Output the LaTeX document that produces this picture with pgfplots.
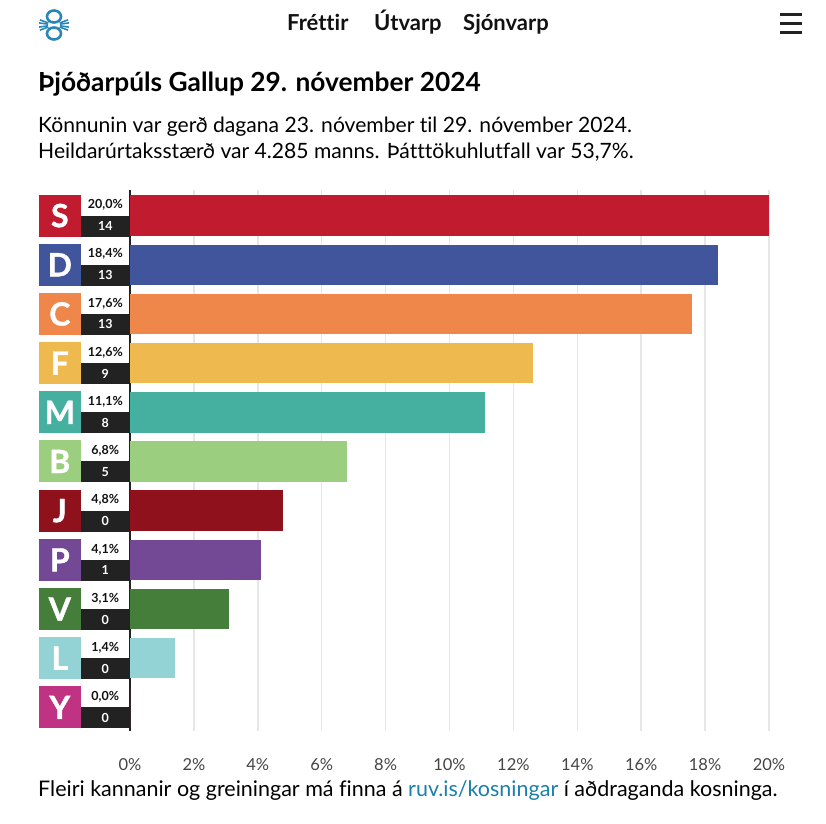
\documentclass[border=0pt]{standalone}
\usepackage{pgfplots}
\pgfplotsset{compat=1.18}
\usepackage{fontspec}
\setmainfont{Lato}[Ligatures=NoCommon]
\newfontfamily\heavyfont{Lato}[Ligatures=NoCommon, BoldFeatures={FakeBold=1.2}]
\definecolor{cS}{HTML}{C11B2F}
\definecolor{cD}{HTML}{40559C}
\definecolor{cC}{HTML}{EF874A}
\definecolor{cF}{HTML}{EEB94F}
\definecolor{cM}{HTML}{46B0A0}
\definecolor{cB}{HTML}{9CCE7F}
\definecolor{cJ}{HTML}{8F111C}
\definecolor{cP}{HTML}{734995}
\definecolor{cV}{HTML}{457E3B}
\definecolor{cL}{HTML}{93D3D5}
\definecolor{cY}{HTML}{C03282}
\definecolor{boxblack}{HTML}{222222}
\definecolor{txt}{HTML}{111111}
\definecolor{ticktxt}{HTML}{444444}
\definecolor{gridc}{HTML}{E6E6E6}
\definecolor{link}{HTML}{1A7FAA}
\definecolor{logo}{HTML}{2A86B8}
\newcommand{\plab}[4]{%
  \begingroup\setlength{\fboxsep}{0pt}%
  \colorbox{#1}{\parbox[c][42pt][c]{42pt}{\centering\color{white}\heavyfont\fontsize{32}{32}\selectfont\bfseries #2}}%
  \parbox[c]{49pt}{\offinterlineskip
    \colorbox{white}{\parbox[c][21pt][c]{49pt}{\centering\fontsize{12.5}{12.5}\selectfont\bfseries\color{txt}#3}}\par
    \colorbox{boxblack}{\parbox[c][21pt][c]{49pt}{\centering\fontsize{12.5}{12.5}\selectfont\bfseries\color{white}#4}}}%
  \endgroup}
\begin{document}
\begin{tikzpicture}
\begin{axis}[
  at={(0,0)}, anchor=south west,
  scale only axis, width=639pt, height=541pt,
  xmin=0, xmax=20, ymin=-0.48, ymax=10.52,
  xbar, bar width=40.5pt, bar shift=0pt,
  axis line style={draw=none},
  major tick length=0pt,
  xtick={0,2,...,20},
  xticklabels={0\%,2\%,4\%,6\%,8\%,10\%,12\%,14\%,16\%,18\%,20\%},
  xticklabel style={anchor=base, yshift=-39pt, font=\fontsize{16.5}{16.5}\selectfont, text=ticktxt},
  xmajorgrids, grid style={gridc, line width=1.5pt},
  extra x ticks={0}, extra x tick labels={},
  extra x tick style={grid style={boxblack, line width=1.5pt}},
  ytick={0,...,10},
  yticklabels={
    {\plab{cY}{Y}{0,0\%}{0}},
    {\plab{cL}{L}{1,4\%}{0}},
    {\plab{cV}{V}{3,1\%}{0}},
    {\plab{cP}{P}{4,1\%}{1}},
    {\plab{cJ}{J}{4,8\%}{0}},
    {\plab{cB}{B}{6,8\%}{5}},
    {\plab{cM}{M}{11,1\%}{8}},
    {\plab{cF}{F}{12,6\%}{9}},
    {\plab{cC}{C}{17,6\%}{13}},
    {\plab{cD}{D}{18,4\%}{13}},
    {\plab{cS}{S}{20,0\%}{14}}},
  yticklabel style={anchor=east, inner sep=0pt, xshift=0pt},
  clip=false,
]
\addplot[draw=none, fill=cS] coordinates {(20.0,10)};
\addplot[draw=none, fill=cD] coordinates {(18.4,9)};
\addplot[draw=none, fill=cC] coordinates {(17.6,8)};
\addplot[draw=none, fill=cF] coordinates {(12.6,7)};
\addplot[draw=none, fill=cM] coordinates {(11.1,6)};
\addplot[draw=none, fill=cB] coordinates {(6.8,5)};
\addplot[draw=none, fill=cJ] coordinates {(4.8,4)};
\addplot[draw=none, fill=cP] coordinates {(4.1,3)};
\addplot[draw=none, fill=cV] coordinates {(3.1,2)};
\addplot[draw=none, fill=cL] coordinates {(1.4,1)};
\addplot[draw=none, fill=cY] coordinates {(0.0,0)};
\end{axis}
% bounding box: image pixel (px,py) -> (px-130, 731-py)
\path[use as bounding box] (-130pt,-92pt) rectangle (696pt,731pt);
% header
\node[anchor=base west, inner sep=0pt, font=\fontsize{22}{22}\selectfont\bfseries, text=txt] at (157pt,700pt) {Fréttir};
\node[anchor=base west, inner sep=0pt, font=\fontsize{22}{22}\selectfont\bfseries, text=txt] at (244pt,700pt) {Útvarp};
\node[anchor=base west, inner sep=0pt, font=\fontsize{22}{22}\selectfont\bfseries, text=txt] at (333pt,700pt) {Sjónvarp};
\foreach \yy in {716,707,698} \draw[line width=3pt, boxblack] (650pt,\yy pt) -- (672pt,\yy pt);
% logo
\begin{scope}[logo, line width=2.6pt]
  \draw (-76pt,714.5pt) ellipse (7pt and 6pt);
  \draw (-76pt,697.5pt) ellipse (7pt and 6pt);
  \foreach \a in {-20,-8,8,20} {
    \draw[line width=1.6pt] (-76pt,706pt) ++(\a:6pt) -- ++(\a:9pt);
    \draw[line width=1.6pt] (-76pt,706pt) ++(180+\a:6pt) -- ++(180+\a:9pt);
  }
\end{scope}
% title and subtitle
\node[anchor=base west, inner sep=0pt, font=\fontsize{26.3}{26.3}\selectfont\bfseries, text=black] at (-92pt,639pt) {Þjóðarpúls Gallup 29. nóvember 2024};
\node[anchor=base west, inner sep=0pt, font=\fontsize{21.1}{21.1}\selectfont, text=black] at (-92pt,598pt) {Könnunin var gerð dagana 23. nóvember til 29. nóvember 2024.};
\node[anchor=base west, inner sep=0pt, font=\fontsize{21.1}{21.1}\selectfont, text=black] at (-92pt,572pt) {Heildarúrtaksstærð var 4.285 manns. Þátttökuhlutfall var 53,7\%.};
% footer
\node[anchor=base west, inner sep=0pt, font=\fontsize{21.5}{21.5}\selectfont, text=black] at (-92pt,-65pt) {Fleiri kannanir og greiningar má finna á \textcolor{link}{ruv.is/kosningar} í aðdraganda kosninga.};
\end{tikzpicture}
\end{document}
